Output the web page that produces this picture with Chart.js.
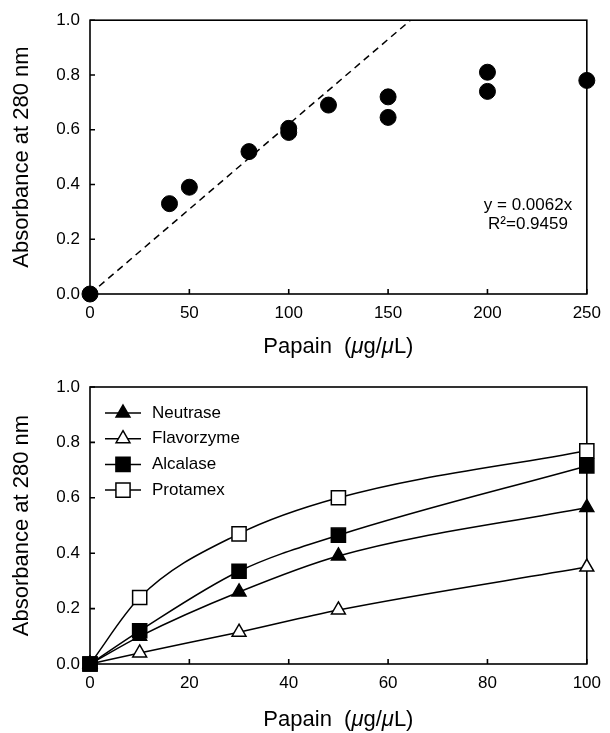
<!DOCTYPE html>
<html>
<head>
<meta charset="utf-8">
<script src="https://cdn.jsdelivr.net/npm/chart.js@4/dist/chart.umd.min.js"></script>
<style>
  html, body { margin: 0; padding: 0; background: #fff; }
  canvas { display: block; }
</style>
</head>
<body>
<canvas id="papainChart" width="610" height="365"></canvas>
<canvas id="enzymeChart" width="610" height="368"></canvas>
<script>
// top panel: papain dose vs absorbance
const papainDose = [0, 40, 50, 80, 100, 100, 120, 150, 150, 200, 200, 250];
const papainAbs  = [0, 0.33, 0.39, 0.52, 0.605, 0.59, 0.69, 0.72, 0.645, 0.81, 0.74, 0.78];
const fitSlope = 0.0062;
const fitText = ['y = 0.0062x', 'R\u00b2=0.9459'];

// bottom panel: four enzymes
const enzymeDose  = [0, 10, 30, 50, 100];
const enzymeNames = ['Neutrase', 'Flavorzyme', 'Alcalase', 'Protamex'];
const neutrase    = [0, 0.10, 0.26, 0.39, 0.565];
const flavorzyme  = [0, 0.04, 0.115, 0.195, 0.35];
const alcalase    = [0, 0.12, 0.335, 0.465, 0.715];
const protamex    = [0, 0.24, 0.47, 0.60, 0.77];

// tick labels
const yTicks       = [0, 0.2, 0.4, 0.6, 0.8, 1.0];
const topXTicks    = [0, 50, 100, 150, 200, 250];
const bottomXTicks = [0, 20, 40, 60, 80, 100];

const FONT = '"Liberation Sans", Arial, sans-serif';
Chart.defaults.font.family = FONT;
Chart.defaults.color = '#000';

// box round the plot, with tick marks pointing inward
const frame = {
  id: 'frame',
  beforeDatasetsDraw(chart) {
    const { ctx, chartArea: a, scales: { x, y } } = chart;
    ctx.save();
    ctx.strokeStyle = '#000';
    ctx.lineWidth = 1.6;
    ctx.strokeRect(a.left, a.top, a.right - a.left, a.bottom - a.top);
    ctx.beginPath();
    x.ticks.forEach(t => {
      const px = x.getPixelForValue(t.value);
      ctx.moveTo(px, a.bottom);
      ctx.lineTo(px, a.bottom - 5);
    });
    y.ticks.forEach(t => {
      const py = y.getPixelForValue(t.value);
      ctx.moveTo(a.left, py);
      ctx.lineTo(a.left + 5, py);
    });
    ctx.stroke();
    ctx.restore();
  }
};

// x axis title with italic mu
const xTitle = {
  id: 'xTitle',
  afterDraw(chart, args, opts) {
    const { ctx, chartArea: a } = chart;
    const parts = [['Papain  (', false], ['\u03bc', true], ['g/', false], ['\u03bc', true], ['L)', false]];
    ctx.save();
    ctx.fillStyle = '#000';
    ctx.textBaseline = 'middle';
    let total = 0;
    parts.forEach(([t, it]) => {
      ctx.font = (it ? 'italic ' : '') + '22px ' + FONT;
      total += ctx.measureText(t).width;
    });
    let x = (a.left + a.right) / 2 - total / 2;
    parts.forEach(([t, it]) => {
      ctx.font = (it ? 'italic ' : '') + '22px ' + FONT;
      ctx.fillText(t, x, opts.y);
      x += ctx.measureText(t).width;
    });
    ctx.restore();
  }
};

// regression note
const fitNote = {
  id: 'fitNote',
  afterDraw(chart, args, opts) {
    if (!opts.lines) return;
    const { ctx, chartArea: a } = chart;
    ctx.save();
    ctx.fillStyle = '#000';
    ctx.font = '17px ' + FONT;
    ctx.textAlign = 'center';
    ctx.textBaseline = 'middle';
    opts.lines.forEach((t, i) => ctx.fillText(t, a.left + opts.dx, a.top + opts.dy + i * 19));
    ctx.restore();
  }
};

// legend with a short line through the marker
const lineLegend = {
  id: 'lineLegend',
  afterDraw(chart, args, opts) {
    if (!opts.show) return;
    const { ctx, chartArea: a } = chart;
    ctx.save();
    chart.data.datasets.forEach((ds, i) => {
      const y = a.top + opts.top + i * opts.spacing;
      const x0 = a.left + opts.left;
      ctx.strokeStyle = '#000';
      ctx.lineWidth = 1.5;
      ctx.beginPath();
      ctx.moveTo(x0, y);
      ctx.lineTo(x0 + 36, y);
      ctx.stroke();
      ctx.fillStyle = ds.pointBackgroundColor;
      Chart.helpers.drawPoint(ctx, {
        pointStyle: ds.pointStyle, radius: ds.pointRadius, rotation: 0, borderWidth: ds.pointBorderWidth
      }, x0 + 18, y);
      ctx.fillStyle = '#000';
      ctx.font = '17px ' + FONT;
      ctx.textBaseline = 'middle';
      ctx.fillText(ds.label, x0 + 47, y);
    });
    ctx.restore();
  }
};

function axes(xTicks, xHeight) {
  return {
    x: {
      type: 'linear',
      min: xTicks[0], max: xTicks[xTicks.length - 1],
      afterBuildTicks: s => { s.ticks = xTicks.map(v => ({ value: v })); },
      afterFit: s => { s.height = xHeight; },
      grid: { display: false, drawTicks: false },
      border: { display: false },
      ticks: { font: { size: 17 }, padding: 9, maxRotation: 0, color: '#000' }
    },
    y: {
      min: yTicks[0], max: yTicks[yTicks.length - 1],
      afterBuildTicks: s => { s.ticks = yTicks.map(v => ({ value: v })); },
      afterFit: s => { s.width = 90; },
      grid: { display: false, drawTicks: false },
      border: { display: false },
      ticks: { font: { size: 17 }, padding: 10, color: '#000', callback: v => v.toFixed(1) },
      title: { display: true, text: 'Absorbance at 280 nm', font: { size: 22 }, padding: { top: 9, bottom: 0 }, color: '#000' }
    }
  };
}

// top chart
const yTop = yTicks[yTicks.length - 1];
new Chart(document.getElementById('papainChart'), {
  type: 'scatter',
  data: {
    datasets: [
      {
        label: 'Papain',
        data: papainDose.map((x, i) => ({ x, y: papainAbs[i] })),
        pointRadius: 8, pointHoverRadius: 8,
        backgroundColor: '#000', borderColor: '#000',
        clip: false, order: 0
      },
      {
        type: 'line',
        label: 'Linear fit',
        data: [{ x: 0, y: 0 }, { x: yTop / fitSlope, y: yTop }],
        borderColor: '#000', borderWidth: 1.5, borderDash: [7, 5],
        pointRadius: 0, fill: false, order: 1
      }
    ]
  },
  options: {
    responsive: false,
    animation: false,
    layout: { padding: { top: 16, right: 20, left: 0, bottom: 0 } },
    scales: axes(topXTicks, 71),
    plugins: {
      legend: { display: false },
      tooltip: { enabled: false },
      xTitle: { y: 347 },
      fitNote: { lines: fitText, dx: 438, dy: 185 },
      lineLegend: { show: false }
    }
  },
  plugins: [frame, xTitle, fitNote, lineLegend]
});

// bottom chart
const enzymeSeries = [neutrase, flavorzyme, alcalase, protamex];
const enzymeStyle = [
  { pointStyle: 'triangle', fill: '#000', r: 8 },
  { pointStyle: 'triangle', fill: '#fff', r: 8 },
  { pointStyle: 'rect', fill: '#000', r: 10 },
  { pointStyle: 'rect', fill: '#fff', r: 10 }
];

new Chart(document.getElementById('enzymeChart'), {
  type: 'line',
  data: {
    datasets: enzymeNames.map((name, i) => ({
      label: name,
      data: enzymeDose.map((x, j) => ({ x, y: enzymeSeries[i][j] })),
      borderColor: '#000',
      borderWidth: 1.5,
      cubicInterpolationMode: 'monotone',
      pointStyle: enzymeStyle[i].pointStyle,
      pointRadius: enzymeStyle[i].r,
      pointHoverRadius: enzymeStyle[i].r,
      pointBackgroundColor: enzymeStyle[i].fill,
      pointBorderColor: '#000',
      pointBorderWidth: 1.5,
      fill: false,
      clip: false
    }))
  },
  options: {
    responsive: false,
    animation: false,
    layout: { padding: { top: 22, right: 18, left: 0, bottom: 0 } },
    scales: axes(bottomXTicks, 69),
    plugins: {
      legend: { display: false },
      tooltip: { enabled: false },
      xTitle: { y: 355 },
      fitNote: { lines: null },
      lineLegend: { show: true, left: 15, top: 26, spacing: 25.7 }
    }
  },
  plugins: [frame, xTitle, fitNote, lineLegend]
});
</script>
</body>
</html>
